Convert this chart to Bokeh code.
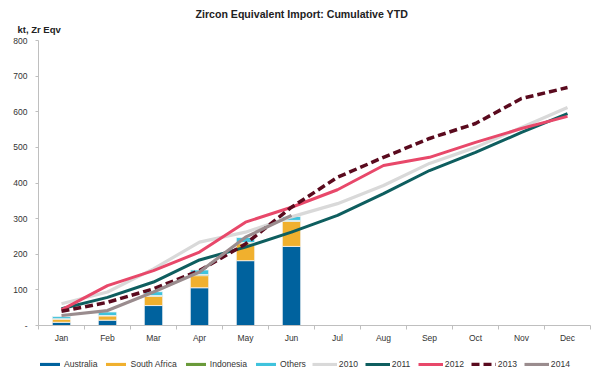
from bokeh.plotting import figure
from bokeh.layouts import column
from bokeh.models import FixedTicker, Legend, LegendItem, Title, ColumnDataSource, Range1d
from bokeh.embed import file_html
from bokeh.resources import INLINE

months = ["Jan", "Feb", "Mar", "Apr", "May", "Jun", "Jul", "Aug", "Sep", "Oct", "Nov", "Dec"]
bar_months = ["Jan", "Feb", "Mar", "Apr", "May", "Jun"]
australia = [9, 15, 56, 106, 182, 222]
south_africa = [9, 12, 26, 34, 48, 70]
indonesia = [1, 1, 2, 3, 3, 3]
others = [6, 10, 11, 13, 14, 11]

y2010 = [61, 94, 159, 234, 262, 305, 342, 393, 455, 500, 556, 612]
y2011 = [47, 79, 122, 184, 220, 262, 309, 370, 435, 486, 542, 595]
y2012 = [44, 112, 154, 206, 290, 332, 381, 449, 472, 514, 553, 587]
y2013 = [40, 65, 103, 154, 229, 332, 416, 472, 525, 567, 637, 668]
y2014 = [28, 42, 94, 150, 248, 309]

y_ticks = [0, 100, 200, 300, 400, 500, 600, 700, 800]

bar_names = ["Australia", "South Africa", "Indonesia", "Others"]
bar_colors = ["#00629E", "#F0B02E", "#6A9A3A", "#3FC3DD"]
line_names = ["2010", "2011", "2012", "2013", "2014"]
line_colors = ["#D9D9D9", "#0E5E5F", "#E8486A", "#5A0A1E", "#9A8C8E"]
line_widths = [3.2, 3.0, 3.0, 3.5, 3.2]
line_dashes = ["solid", "solid", "solid", "8 4", "solid"]

FONT = "Liberation Sans"
pos = {m: i + 0.5 for i, m in enumerate(months)}
full_x = [pos[m] for m in months]
half_x = [pos[m] for m in bar_months]
series = [(full_x, y2010), (full_x, y2011), (full_x, y2012), (full_x, y2013), (half_x, y2014)]
bar_src = ColumnDataSource(dict(x=half_x, australia=australia, south_africa=south_africa,
                                indonesia=indonesia, others=others))
stack_cols = ["australia", "south_africa", "indonesia", "others"]


def draw_series(fig, visible=True, bar_line="#F4F4F4"):
    bars = fig.vbar_stack(stack_cols, x="x", width=0.4, source=bar_src, fill_color=bar_colors,
                          line_color=bar_line, line_width=0.8, visible=visible)
    lines = []
    for (xs, ys), c, w, d in zip(series, line_colors, line_widths, line_dashes):
        lines.append(fig.line(xs, ys, line_color=c, line_width=w, line_dash=d, visible=visible))
    return bars, lines


p = figure(width=598, height=352, output_backend="svg", toolbar_location=None, title=None,
           x_range=Range1d(0, 12), y_range=Range1d(0, 800),
           min_border_left=38, min_border_right=8, min_border_top=40, min_border_bottom=27)
p.outline_line_color = None
p.xgrid.grid_line_color = None
p.ygrid.grid_line_color = None

unit = Title(text="kt, Zr Eqv", align="left", offset=-21, standoff=11,
             text_font=FONT, text_font_size="9.5px", text_font_style="bold", text_color="#222222")
p.add_layout(unit, "above")
main_title = Title(text="Zircon Equivalent Import: Cumulative YTD", align="left", offset=157,
                   standoff=-7, text_font=FONT, text_font_size="10.6px", text_font_style="bold",
                   text_color="#222222")
p.add_layout(main_title, "above")

draw_series(p)

# axes
p.xaxis.ticker = FixedTicker(ticks=full_x, minor_ticks=list(range(13)))
p.xaxis.major_label_overrides = {pos[m]: m for m in months}
p.xaxis.major_tick_line_color = None
p.xaxis.minor_tick_line_color = "#BFBFBF"
p.xaxis.minor_tick_out = 4
p.xaxis.minor_tick_in = 0
p.xaxis.axis_line_color = "#BFBFBF"
p.xaxis.major_label_text_font = FONT
p.xaxis.major_label_text_font_size = "8.5px"
p.xaxis.major_label_text_color = "#333333"
p.xaxis.major_label_standoff = 1

p.yaxis.ticker = FixedTicker(ticks=y_ticks, minor_ticks=[])
p.yaxis.major_label_overrides = {0: "-"}
p.yaxis.major_tick_line_color = "#BFBFBF"
p.yaxis.major_tick_out = 3
p.yaxis.major_tick_in = 0
p.yaxis.minor_tick_line_color = None
p.yaxis.axis_line_color = "#BFBFBF"
p.yaxis.major_label_text_font = FONT
p.yaxis.major_label_text_font_size = "8.5px"
p.yaxis.major_label_text_color = "#333333"
p.yaxis.major_label_standoff = 8

# legend strip below the chart (proxy renderers hidden, only their legend glyphs are shown)
lf = figure(width=598, height=21, output_backend="svg", toolbar_location=None,
            x_axis_type=None, y_axis_type=None, min_border=0,
            x_range=Range1d(0, 12), y_range=Range1d(0, 800))
lf.outline_line_color = None
lf.xgrid.grid_line_color = None
lf.ygrid.grid_line_color = None
lbars, llines = draw_series(lf, visible=False, bar_line=None)
items = [LegendItem(label=n, renderers=[r]) for n, r in zip(bar_names, lbars)]
items += [LegendItem(label=n, renderers=[r]) for n, r in zip(line_names, llines)]
legend = Legend(items=items, orientation="horizontal", location=(-1, 4),
                glyph_width=25, glyph_height=4, label_standoff=2, spacing=6,
                padding=0, margin=0, border_line_color=None, background_fill_alpha=0,
                inactive_fill_alpha=0, click_policy="none",
                label_text_font=FONT, label_text_font_size="8.6px", label_text_color="#333333",
                label_height=10)
lf.add_layout(legend, "center")

open("out.html", "w").write(file_html(column(p, lf, spacing=0), INLINE))
